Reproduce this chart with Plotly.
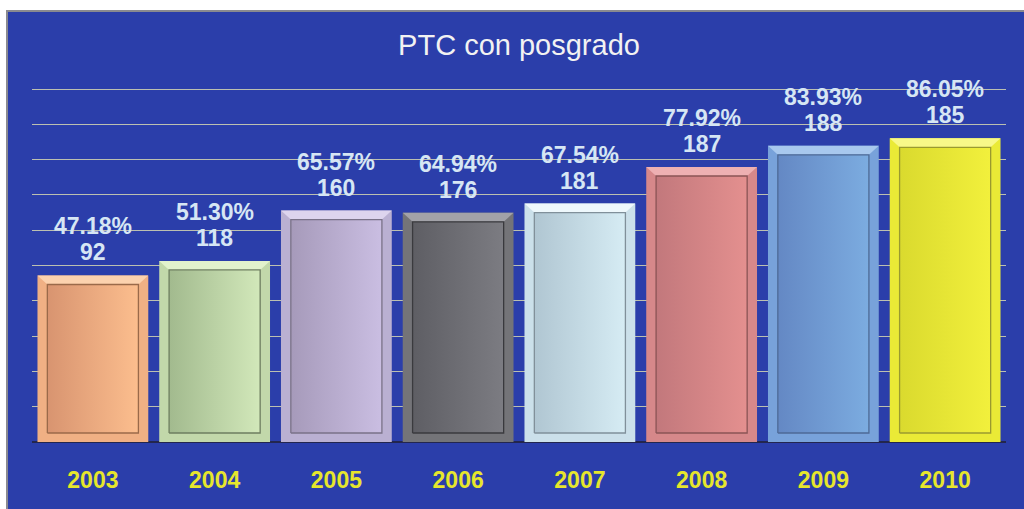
import plotly.graph_objects as go

# ---- data ----
years = ["2003", "2004", "2005", "2006", "2007", "2008", "2009", "2010"]
pct = [47.18, 51.30, 65.57, 64.94, 67.54, 77.92, 83.93, 86.05]
counts = [92, 118, 160, 176, 181, 187, 188, 185]

# ---- styles ----
outer_colors = ["#f0b084", "#c2d8aa", "#bab0d2", "#747478", "#cbe0ea", "#d6888a", "#78a2da", "#eaea36"]
top_colors = ["#fcd2ae", "#e2f2cc", "#ddd4ee", "#a2a2a8", "#eef8fc", "#eeb0b2", "#a8c8ee", "#f8f888"]
face_dark = ["#d89470", "#a2ba8e", "#a69aba", "#5e5e64", "#b0c6d2", "#c2787c", "#6488c4", "#dada2e"]
face_light = ["#fcbe8e", "#d2e8ba", "#cabee2", "#7c7c82", "#d6ecf4", "#e4908f", "#7cace0", "#f2f03c"]
edge_colors = ["#9a6a4a", "#6e7e60", "#7a7288", "#3a3a3e", "#80909a", "#8a5456", "#4e6a96", "#9a9a30"]

BG = "#2b3eaa"
FONT = "Liberation Sans, Arial, sans-serif"
HALF_OUT = 0.455
HALF_IN = 0.374
BEV = 2.55

# plot-area geometry in pixels (for decoration shapes only)
L, R, T, B = 32, 18, 82, 67
PW, PH = 1024 - L - R, 509 - T - B


def px(xp):
    return (xp - L) / PW


def py(yp):
    return (509 - B - yp) / PH


fig = go.Figure()

# main bars
fig.add_trace(go.Bar(
    x=list(range(len(years))), y=pct, width=2 * HALF_OUT,
    marker=dict(color=outer_colors, line=dict(width=0)),
    hoverinfo="skip", showlegend=False,
))

for i, v in enumerate(pct):
    # top bevel highlight
    fig.add_trace(go.Scatter(
        x=[i - HALF_OUT, i + HALF_OUT, i + HALF_IN, i - HALF_IN, i - HALF_OUT],
        y=[v, v, v - BEV, v - BEV, v],
        mode="lines", fill="toself", fillcolor=top_colors[i],
        line=dict(width=0), hoverinfo="skip", showlegend=False,
    ))
    # inner face with gradient
    fig.add_trace(go.Scatter(
        x=[i - HALF_IN, i + HALF_IN, i + HALF_IN, i - HALF_IN, i - HALF_IN],
        y=[BEV, BEV, v - BEV, v - BEV, BEV],
        mode="lines", fill="toself",
        fillgradient=dict(type="horizontal",
                          colorscale=[[0, face_dark[i]], [1, face_light[i]]]),
        line=dict(width=1.3, color=edge_colors[i]),
        hoverinfo="skip", showlegend=False,
    ))

annotations = []
for i, (v, c) in enumerate(zip(pct, counts)):
    annotations.append(dict(
        x=i, y=v, xref="x", yref="y", text=f"{v:.2f}%", showarrow=False,
        yanchor="middle", yshift=49,
        font=dict(family=FONT, size=23, color="#d6e6f4", weight="bold"),
    ))
    annotations.append(dict(
        x=i, y=v, xref="x", yref="y", text=f"{c}", showarrow=False,
        yanchor="middle", yshift=23,
        font=dict(family=FONT, size=23, color="#d6e6f4", weight="bold"),
    ))

shapes = [
    # white page margins of the original image
    dict(type="rect", xref="paper", yref="paper",
         x0=px(-5), x1=px(1030), y0=py(10), y1=py(-5),
         fillcolor="white", line=dict(width=0), layer="above"),
    dict(type="rect", xref="paper", yref="paper",
         x0=px(-5), x1=px(6), y0=py(515), y1=py(-5),
         fillcolor="white", line=dict(width=0), layer="above"),
    dict(type="line", xref="paper", yref="paper",
         x0=px(6), x1=px(1030), y0=py(11), y1=py(11),
         line=dict(color="#8a8a90", width=2), layer="above"),
    dict(type="line", xref="paper", yref="paper",
         x0=px(7), x1=px(7), y0=py(515), y1=py(11),
         line=dict(color="#8a8a90", width=2), layer="above"),
]

fig.update_layout(
    width=1024, height=509, autosize=False,
    margin=dict(l=L, r=R, t=T, b=B, pad=0),
    paper_bgcolor=BG, plot_bgcolor="rgba(0,0,0,0)",
    barmode="overlay",
    title=dict(text="PTC con posgrado", x=0.5, xref="paper", xanchor="center",
               y=1 - 45 / 509, yanchor="middle",
               font=dict(family=FONT, size=29, color="#f2f2f2")),
    xaxis=dict(range=[-0.5, 7.5], tickvals=list(range(len(years))), ticktext=years,
               showgrid=False, zeroline=False, showline=False,
               ticks="", ticklabelstandoff=22,
               tickfont=dict(family=FONT, size=23, color="#e6e62c", weight="bold")),
    yaxis=dict(range=[0, 102], tickvals=[10, 20, 30, 40, 50, 60, 70, 80, 90, 100],
               showticklabels=False,
               showgrid=True, gridcolor="#bcc0b0", gridwidth=1,
               zeroline=True, zerolinecolor="#23264e", zerolinewidth=2,
               showline=False),
    annotations=annotations,
    shapes=shapes,
    showlegend=False,
)

fig.write_html("out.html", config={"displayModeBar": False},
               post_script="document.body.style.margin='0';document.body.style.overflow='hidden';")
